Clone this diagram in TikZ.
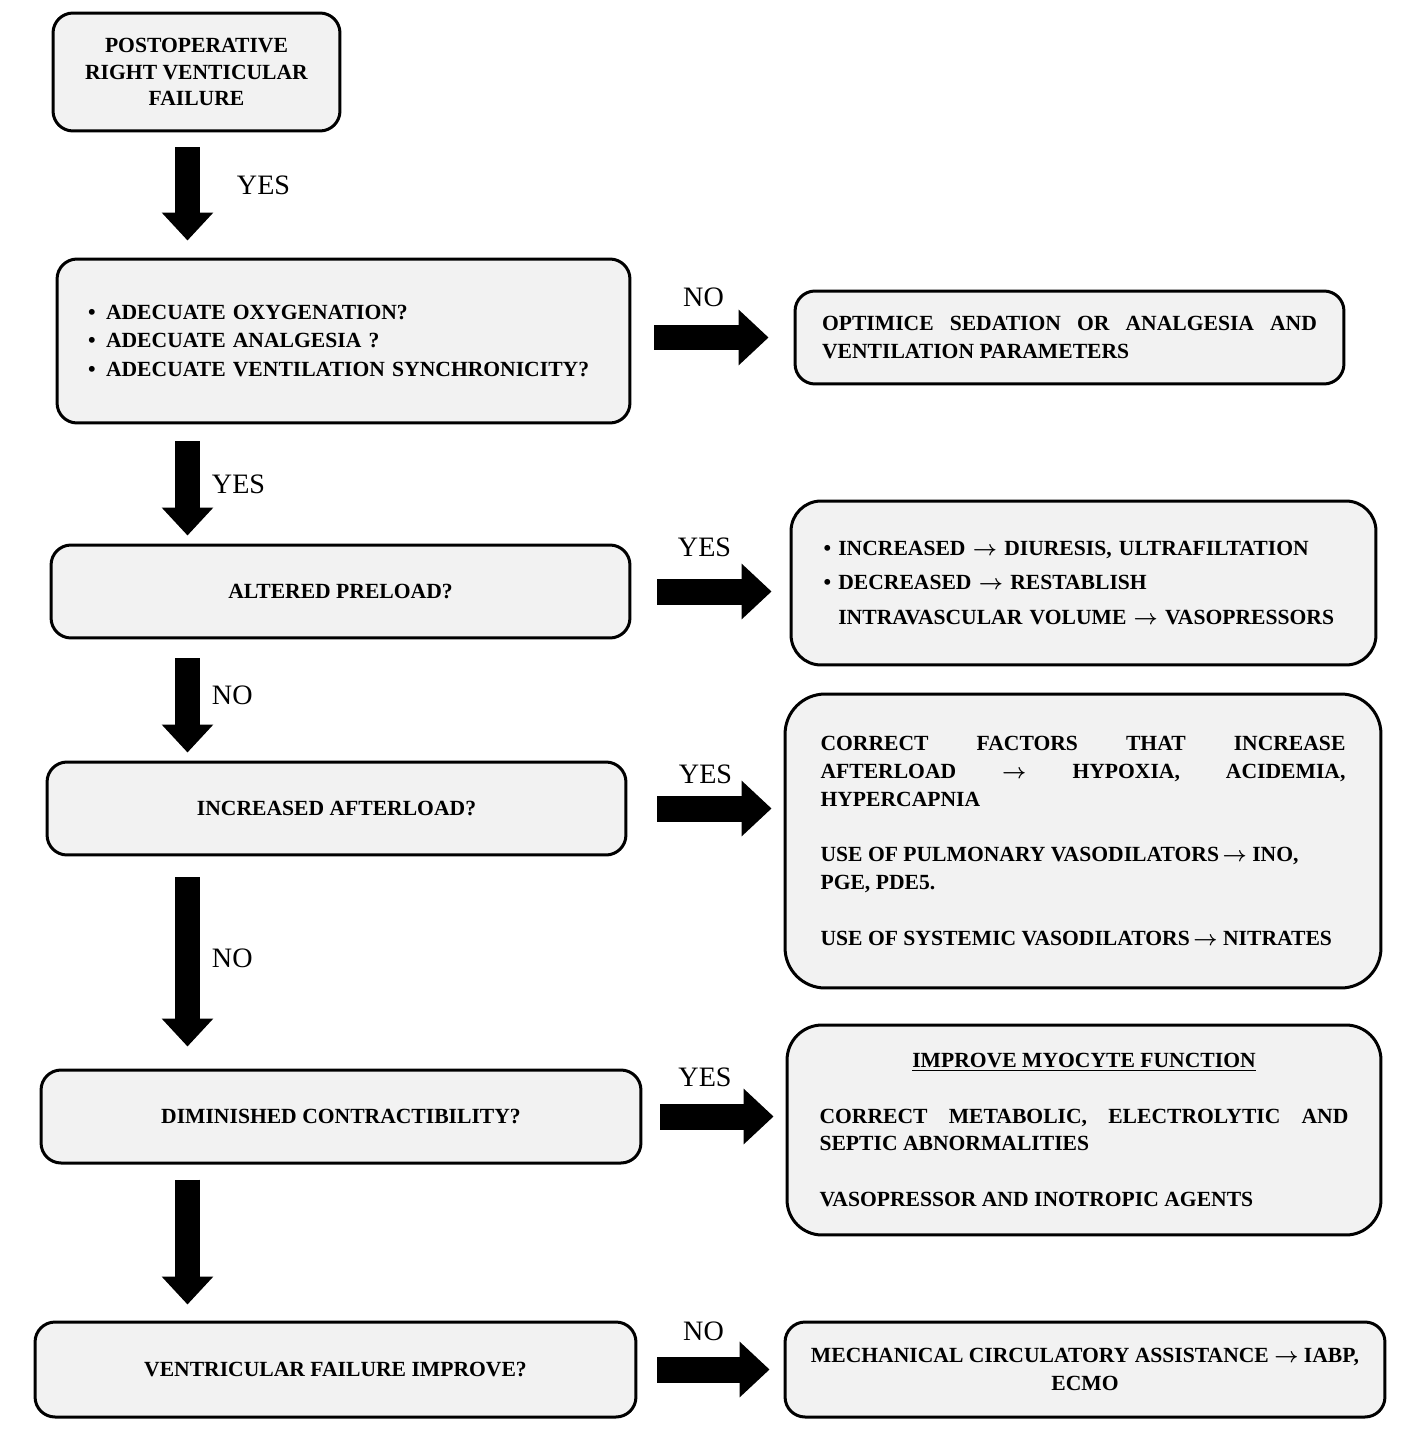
\documentclass[tikz,border=0pt]{standalone}
\usepackage{fontspec}
\setmainfont{Liberation Serif}
\usetikzlibrary{arrows.meta,positioning}
\definecolor{boxfill}{HTML}{F2F2F2}
\newcommand{\toarrow}{{\boldmath$\rightarrow$}}
\tikzset{
  box/.style={draw, line width=0.06cm, rounded corners=0.4cm, fill=boxfill,
    inner sep=0pt, align=center,
    font=\bfseries\fontsize{12.3}{15.9}\selectfont},
  vfat/.style={line width=0.5cm, -{Triangle[length=0.56cm,width=1.0cm]}},
  hfat/.style={line width=0.52cm, -{Triangle[length=0.6cm,width=1.08cm]}},
  lbl/.style={font=\fontsize{16}{19}\selectfont, inner sep=0pt}
}
\begin{document}
\begin{tikzpicture}[x=0.02cm,y=-0.02cm]
\useasboundingbox (0,0) rectangle (1417,1439);

% boxes on the left
\node[box, minimum width=5.74cm, minimum height=2.36cm,
  font=\bfseries\fontsize{12.3}{15}\selectfont] (post) at (196.5,72)
  {POSTOPERATIVE\\RIGHT VENTICULAR\\FAILURE};
\node[box, minimum width=11.46cm, minimum height=3.28cm, align=left,
  text width=10.22cm, font=\bfseries\fontsize{12.3}{16.2}\selectfont] (oxy) at (343.5,341)
  {\makebox[0.36cm][l]{\textbullet}ADECUATE OXYGENATION?\\
   \makebox[0.36cm][l]{\textbullet}ADECUATE ANALGESIA ?\\
   \makebox[0.36cm][l]{\textbullet}ADECUATE VENTILATION SYNCHRONICITY?};
\node[box, minimum width=11.58cm, minimum height=1.86cm] (preload) at (340.5,591.5)
  {ALTERED PRELOAD?};
\node[box, minimum width=11.58cm, minimum height=1.86cm] (afterload) at (336.5,808.5)
  {INCREASED AFTERLOAD?};
\node[box, minimum width=12cm, minimum height=1.86cm] (contract) at (341,1116.5)
  {DIMINISHED CONTRACTIBILITY?};
\node[box, minimum width=12.02cm, minimum height=1.9cm] (improve) at (335.5,1369.5)
  {VENTRICULAR FAILURE IMPROVE?};

% boxes on the right
\node[box, minimum width=10.98cm, minimum height=1.86cm, text width=9.9cm,
  align=justify] (sedation) at (1069.5,337.5)
  {OPTIMICE SEDATION OR ANALGESIA AND\linebreak VENTILATION PARAMETERS};
\node[box, minimum width=11.7cm, minimum height=3.28cm, rounded corners=0.6cm,
  text width=10.4cm, align=left,
  font=\bfseries\fontsize{12.3}{19.6}\selectfont] (volume) at (1083.5,583)
  {\textbullet\ INCREASED \toarrow{} DIURESIS, ULTRAFILTATION\\
   \textbullet\ DECREASED \toarrow{} RESTABLISH\\
   \hphantom{\textbullet\ }INTRAVASCULAR VOLUME \toarrow{} VASOPRESSORS};
\node[box, minimum width=11.92cm, minimum height=5.88cm, rounded corners=0.8cm,
  text width=10.5cm, align=justify] (dilators) at (1083,841)
  {CORRECT FACTORS THAT INCREASE\linebreak
   AFTERLOAD \toarrow{} HYPOXIA, ACIDEMIA,\linebreak
   HYPERCAPNIA\par\vspace{15.9pt}
   USE OF PULMONARY VASODILATORS\,\toarrow{} INO,\\
   PGE, PDE5.\par\vspace{15.9pt}
   USE OF SYSTEMIC VASODILATORS\,\toarrow{} NITRATES};
\node[box, minimum width=11.88cm, minimum height=4.2cm, rounded corners=0.7cm,
  text width=10.58cm, align=justify] (myocyte) at (1084,1130)
  {{\centering\underline{IMPROVE MYOCYTE FUNCTION}\par}\vspace{15.9pt}
   CORRECT METABOLIC, ELECTROLYTIC AND\linebreak
   SEPTIC ABNORMALITIES\par\vspace{15.9pt}
   VASOPRESSOR AND INOTROPIC AGENTS};
\node[box, minimum width=12cm, minimum height=1.9cm] (assist) at (1085,1369.5)
  {MECHANICAL CIRCULATORY ASSISTANCE \toarrow{} IABP,\\ECMO};

% down arrows
\coordinate (axis) at (187.5,0);
\draw[vfat, shorten <=0.3cm, shorten >=0.34cm] (post.south -| axis) -- (oxy.north -| axis)
  node[lbl, pos=0.42, right=0.74cm] {YES};
\draw[vfat, shorten <=0.34cm, shorten >=0.16cm] (oxy.south -| axis) -- (preload.north -| axis)
  node[lbl, midway, right=0.24cm] {YES};
\draw[vfat, shorten <=0.38cm, shorten >=0.16cm] (preload.south -| axis) -- (afterload.north -| axis)
  node[lbl, pos=0.46, right=0.24cm] {NO};
\draw[vfat, shorten <=0.42cm, shorten >=0.44cm] (afterload.south -| axis) -- (contract.north -| axis)
  node[lbl, pos=0.48, right=0.24cm] {NO};
\draw[vfat, shorten <=0.3cm, shorten >=0.32cm] (contract.south -| axis) -- (improve.north -| axis);

% arrows to the right
\draw[hfat, shorten <=0.46cm, shorten >=0.5cm] (oxy.east |- sedation.west) -- (sedation.west)
  node[lbl, midway, above=0.36cm, xshift=-0.18cm] {NO};
\draw[hfat, shorten <=0.52cm, shorten >=0.36cm] (preload.east) -- (volume.west |- preload.east)
  node[lbl, midway, above=0.44cm, xshift=-0.12cm] {YES};
\draw[hfat, shorten <=0.6cm, shorten >=0.24cm] (afterload.east) -- (dilators.west |- afterload.east)
  node[lbl, midway, above=0.24cm] {YES};
\draw[hfat, shorten <=0.36cm, shorten >=0.24cm] (contract.east) -- (myocyte.west |- contract.east)
  node[lbl, midway, above=0.34cm, xshift=-0.18cm] {YES};
\draw[hfat, shorten <=0.4cm, shorten >=0.28cm] (improve.east) -- (assist.west |- improve.east)
  node[lbl, midway, above=0.31cm, xshift=-0.14cm] {NO};

\end{tikzpicture}
\end{document}
